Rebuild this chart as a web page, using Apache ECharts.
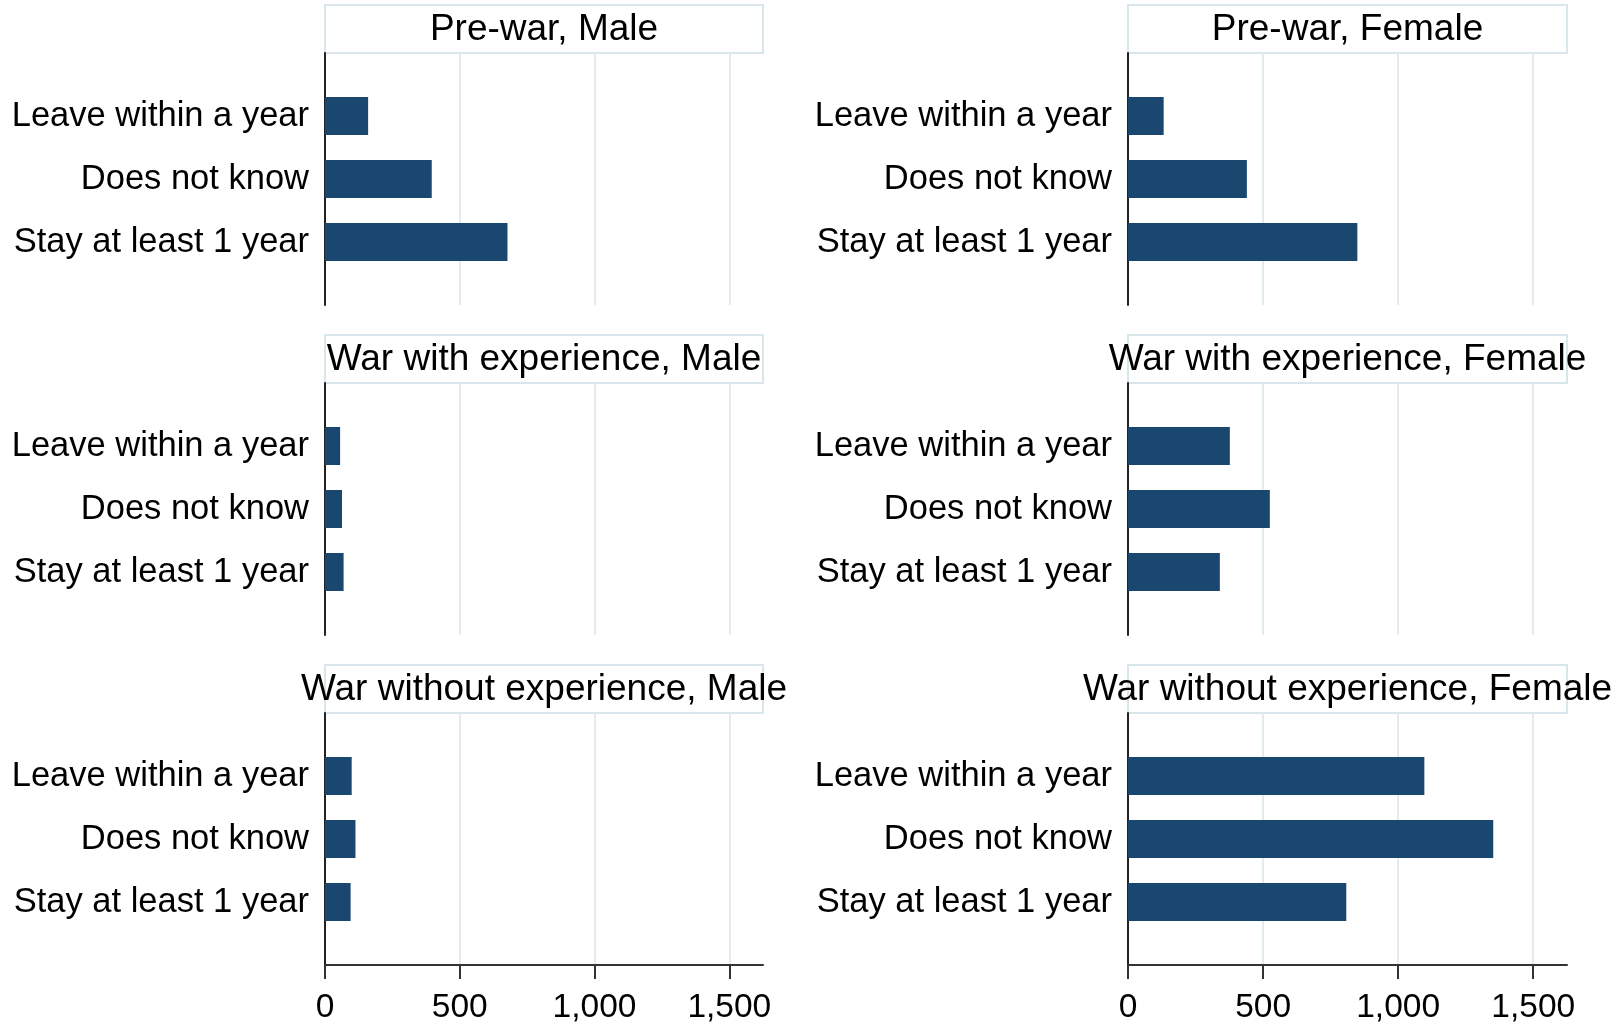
<!DOCTYPE html>
<html>
<head>
<meta charset="utf-8">
<script src="https://cdn.jsdelivr.net/npm/echarts@6/dist/echarts.min.js"></script>
<style>
  html, body { margin: 0; padding: 0; background: #ffffff; }
  #chart { width: 1621px; height: 1026px; }
</style>
</head>
<body>
<div id="chart"></div>
<script>
// ---- data ----
const categories = ['Leave within a year', 'Does not know', 'Stay at least 1 year'];
const panelTitles = [
  'Pre-war, Male', 'Pre-war, Female',
  'War with experience, Male', 'War with experience, Female',
  'War without experience, Male', 'War without experience, Female'
];
const prewarMale = [160, 396, 677];
const prewarFemale = [132, 440, 849];
const warExpMale = [56, 63, 69];
const warExpFemale = [377, 525, 340];
const warNoExpMale = [99, 113, 95];
const warNoExpFemale = [1097, 1352, 808];
const xTicks = [0, 500, 1000, 1500];
const xMax = 1625;

// ---- layout / style ----
const panelValues = [prewarMale, prewarFemale, warExpMale, warExpFemale, warNoExpMale, warNoExpFemale];
const colLeft = [325, 1128];
const plotW = [438, 439];
const boxTop = [5, 335, 665];
const boxH = 48;
const plotH = 252;
const FONT = '"Liberation Sans", Arial, sans-serif';
const barColor = '#1a476f';
const gridColor = '#e2ebee';
const boxColor = '#d9e6eb';

const grids = [], xAxes = [], yAxes = [], series = [], graphics = [];
const padCats = [''].concat(categories, ['']);

panelValues.forEach(function (vals, i) {
  const r = Math.floor(i / 2), c = i % 2;
  const bottom = r === 2;
  grids.push({ left: colLeft[c], top: boxTop[r] + boxH, width: plotW[c], height: plotH, containLabel: false });
  xAxes.push({
    gridIndex: i, type: 'value', min: 0, max: xMax,
    axisLine: { show: bottom, onZero: false, lineStyle: { color: '#333333', width: 2 } },
    axisTick: { show: bottom, customValues: xTicks, length: 14, inside: false, lineStyle: { color: '#333333', width: 2 } },
    axisLabel: {
      show: bottom, customValues: xTicks, margin: 26, fontSize: 33.5, color: '#000', fontFamily: FONT,
      formatter: function (v) { return v.toLocaleString('en-US'); }
    },
    splitLine: { show: true, lineStyle: { color: gridColor, width: 2 } }
  });
  yAxes.push({
    gridIndex: i, type: 'category', inverse: true, boundaryGap: false,
    data: padCats,
    axisLine: { show: true, lineStyle: { color: '#222222', width: 2 } },
    axisTick: { show: false },
    axisLabel: { fontSize: 34.5, color: '#000', margin: 16, fontFamily: FONT, interval: 0 },
    splitLine: { show: false }
  });
  series.push({
    type: 'bar', xAxisIndex: i, yAxisIndex: i,
    data: ['-'].concat(vals, ['-']),
    barWidth: 38,
    itemStyle: { color: barColor },
    silent: true
  });
  graphics.push({
    type: 'rect', z: 0,
    shape: { x: colLeft[c], y: boxTop[r], width: plotW[c], height: boxH },
    style: { fill: '#ffffff', stroke: boxColor, lineWidth: 2 }
  });
  graphics.push({
    type: 'text', z: 10,
    x: colLeft[c] + plotW[c] / 2, y: boxTop[r] + 25,
    style: { text: panelTitles[i], fill: '#000', font: '37px ' + FONT, textAlign: 'center', textVerticalAlign: 'middle' }
  });
});

const chart = echarts.init(document.getElementById('chart'), null, { renderer: 'canvas' });
chart.setOption({
  animation: false,
  backgroundColor: '#ffffff',
  textStyle: { fontFamily: FONT },
  grid: grids,
  xAxis: xAxes,
  yAxis: yAxes,
  series: series,
  graphic: graphics
});
</script>
</body>
</html>
